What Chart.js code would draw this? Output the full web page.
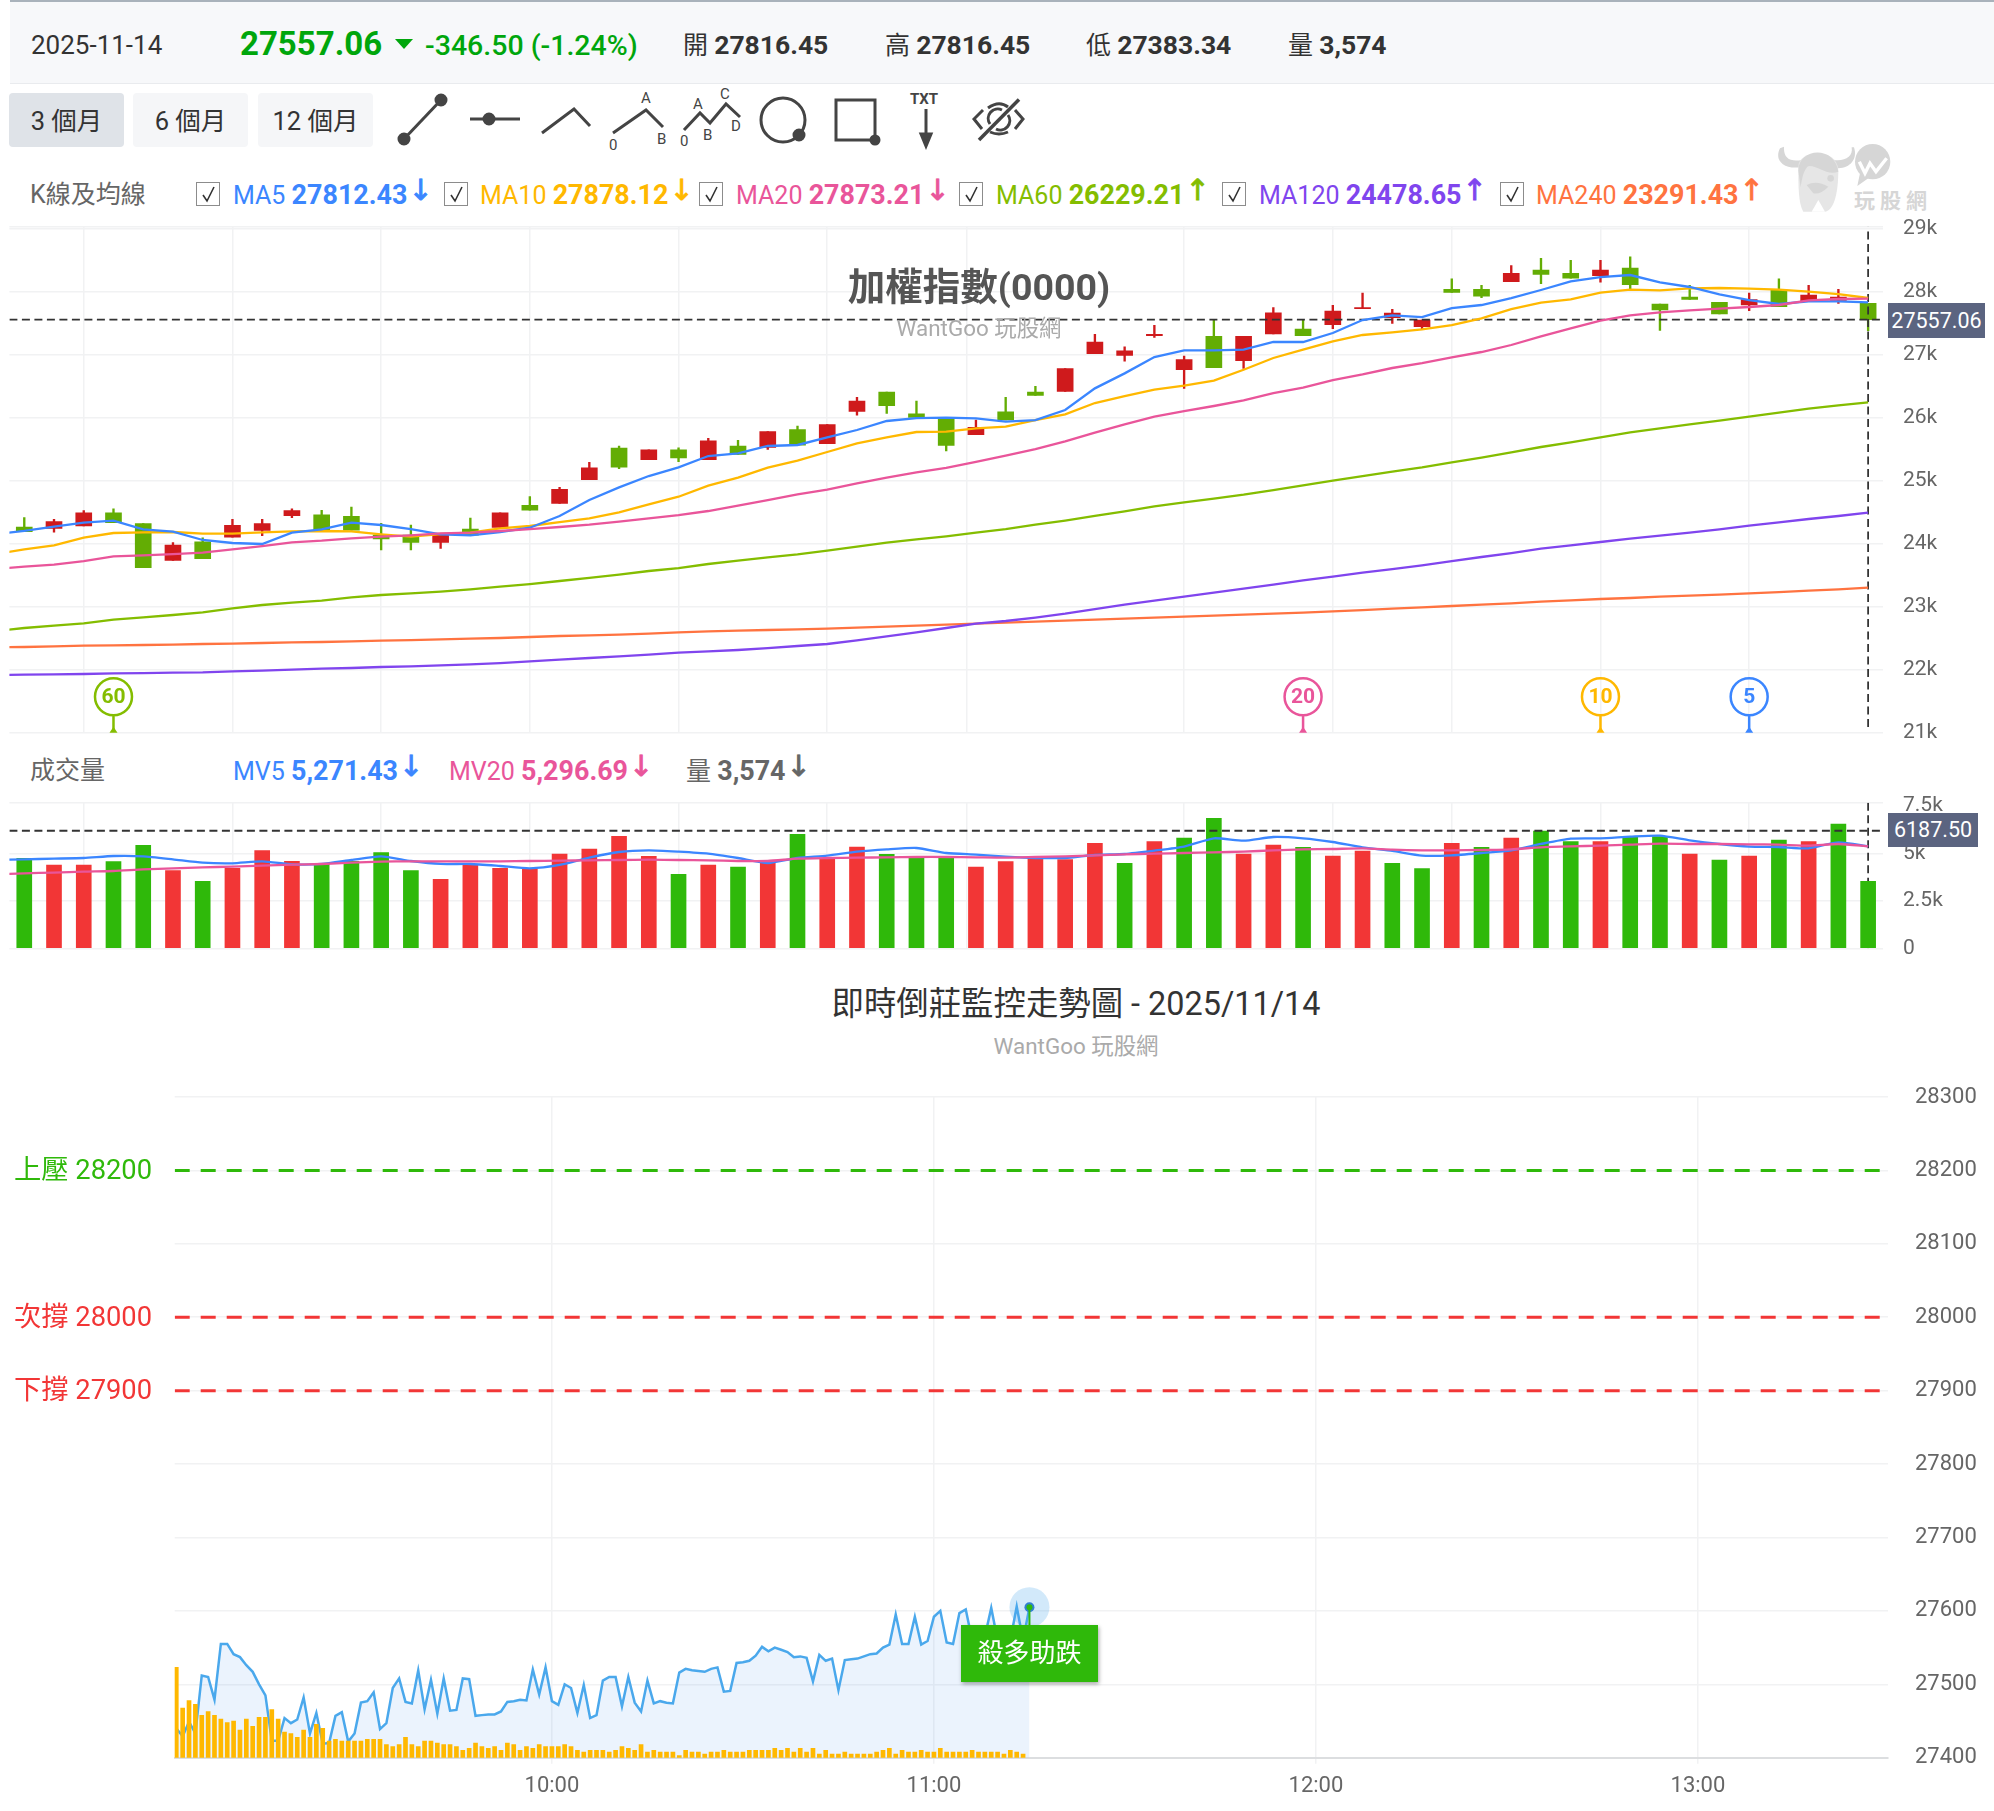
<!DOCTYPE html>
<html>
<head>
<meta charset="utf-8">
<title>加權指數</title>
<script src="https://cdn.jsdelivr.net/npm/chart.js@4/dist/chart.umd.js"></script>
<style>
  html, body { margin: 0; padding: 0; background: #fff; }
  body { width: 1994px; height: 1811px; position: relative; overflow: hidden; font-family: Roboto, "Noto Sans CJK TC", sans-serif; color: #333; }
  canvas { position: absolute; left: 0; }
  .t { position: absolute; white-space: nowrap; transform: translateY(-50%); line-height: 1; }
  .b { font-weight: 700; font-size: 26.5px; }
  .lg .b { font-size: 26.9px; }
  .btn { position: absolute; top: 93px; height: 54px; line-height: 56px; border-radius: 4px; background: #f5f6f8; text-align: center; font-size: 25.5px; color: #333; }
  .chk { position: absolute; top: 182px; width: 22px; height: 22px; border: 1.5px solid #8c8c8c; }
  .arr { font-size: 29px; position: relative; top: -4px; left: 1px; font-family: "DejaVu Sans"; -webkit-text-stroke: 0.9px; }
  .pricebox { position: absolute; background: #5b6480; color: #fff; text-align: center; font-size: 21.5px; }
</style>
</head>
<body>
<div style="position:absolute;left:10px;right:0;top:0;height:2px;background:#a9b2bb"></div>
<div style="position:absolute;left:10px;right:0;top:2px;height:81px;background:#f7f8fa;border-bottom:1px solid #e9ebee"></div>

<div class="t" style="left:31px;top:45px;font-size:26px">2025-11-14</div>
<div class="t" style="left:240px;top:43px;font-size:33px;font-weight:700;color:#00a60c">27557.06</div>
<div class="t" style="left:425px;top:46px;font-size:28.5px;font-weight:500;color:#00a60c">-346.50 (-1.24%)</div>
<div class="t" style="left:683px;top:45px;font-size:25px">開 <span class="b">27816.45</span></div>
<div class="t" style="left:885px;top:45px;font-size:25px">高 <span class="b">27816.45</span></div>
<div class="t" style="left:1086px;top:45px;font-size:25px">低 <span class="b">27383.34</span></div>
<div class="t" style="left:1288px;top:45px;font-size:25px">量 <span class="b">3,574</span></div>

<div class="btn" style="left:9px;width:115px;background:#dfe3e8">3 個月</div>
<div class="btn" style="left:133px;width:115px">6 個月</div>
<div class="btn" style="left:258px;width:115px">12 個月</div>

<svg style="position:absolute;left:0;top:0" width="1994" height="225" fill="none" stroke="#444" stroke-width="3" font-family="Roboto" font-size="15">
  <path d="M395 39H413L404 49Z" fill="#00a60c" stroke="none"/>
  <g>
    <path d="M404 139L441 100"/><circle cx="404" cy="139" r="5" fill="#444"/><circle cx="441" cy="100" r="5" fill="#444"/>
    <path d="M470 119H520"/><circle cx="489" cy="119" r="5" fill="#444"/>
    <path d="M542 133L574 109L590 126"/>
    <path d="M613 133L646 110L663 127"/>
    <path d="M684 130L700 113L710 123L726 104L740 117"/>
    <circle cx="783" cy="120" r="22"/><circle cx="799" cy="135" r="5" fill="#444"/>
    <rect x="836" y="100" width="39" height="40"/><circle cx="875" cy="140" r="4" fill="#444"/>
    <path d="M926 109V140"/><path d="M921 134L926 146L931 134Z" fill="#444"/>
    <path d="M983 110L974 119L982 129M1015 110L1023 119L1015 129M988 108Q999 100 1008 107M990 132Q999 136 1008 132M990 124A9.5 9.5 0 0 1 1002 110M1008 115A9.5 9.5 0 0 1 996 129"/>
    <path d="M979 140L1019 99.5" stroke-width="3.5"/>
  </g>
  <g fill="#444" stroke="none">
    <text x="641" y="103">A</text><text x="609" y="150">0</text><text x="657" y="144">B</text>
    <text x="680" y="146">0</text><text x="693" y="109">A</text><text x="703" y="140">B</text><text x="720" y="99">C</text><text x="731" y="131">D</text>
    <text x="910" y="104" font-weight="700">TXT</text>
  </g>
  <!-- watermark -->
  <g transform="translate(1770,130) scale(0.3333)" stroke="none" fill="#d6d6d6">
    <path d="M30 55C12 90 40 118 90 112L95 90C60 96 40 85 42 50Z"/>
    <path d="M245 52C250 80 225 95 190 90L195 114C236 120 265 90 252 52Z"/>
    <path d="M85 110C85 60 200 50 205 120C205 180 195 240 165 245L100 245C85 220 85 170 85 110Z" fill="#e6e6e6"/>
    <path d="M85 122C85 52 195 45 205 125C172 140 132 100 112 110C100 125 96 145 92 172Z"/>
    <circle cx="182" cy="145" r="10"/>
    <path d="M110 165Q140 150 175 170Q150 195 130 190Z"/>
    <path d="M125 245L145 210L165 245Z" fill="#fff"/>
    <circle cx="308" cy="95" r="53"/>
    <path d="M270 130L262 168L295 145Z"/>
    <path d="M268 95L285 130L300 100L318 125L350 85" fill="none" stroke="#fff" stroke-width="10"/>
  </g>
  <text x="1854" y="208" font-size="21" font-weight="700" fill="#d6d6d6" stroke="none" letter-spacing="5" font-family="Noto Sans CJK TC">玩股網</text>
</svg>

<div class="t" style="left:30px;top:194px;font-size:25px;color:#666">K線及均線</div>
<div class="chk" style="left:196px"></div><div class="chk" style="left:444px"></div><div class="chk" style="left:699px"></div>
<div class="chk" style="left:959px"></div><div class="chk" style="left:1222px"></div><div class="chk" style="left:1500px"></div>
<svg style="position:absolute;left:0;top:0" width="1994" height="225" fill="none" stroke="#333" stroke-width="1.6">
  <path d="M203 195l4 6 7-14M451 195l4 6 7-14M706 195l4 6 7-14M966 195l4 6 7-14M1229 195l4 6 7-14M1507 195l4 6 7-14"/>
</svg>
<div class="t lg" style="left:233px;top:194px;font-size:25px;color:#3b86ff">MA5 <span class="b">27812.43</span><span class="arr">↓</span></div>
<div class="t lg" style="left:480px;top:194px;font-size:25px;color:#ffb800">MA10 <span class="b">27878.12</span><span class="arr">↓</span></div>
<div class="t lg" style="left:736px;top:194px;font-size:25px;color:#e9559a">MA20 <span class="b">27873.21</span><span class="arr">↓</span></div>
<div class="t lg" style="left:996px;top:194px;font-size:25px;color:#84bd00">MA60 <span class="b">26229.21</span><span class="arr">↑</span></div>
<div class="t lg" style="left:1259px;top:194px;font-size:25px;color:#8045ee">MA120 <span class="b">24478.65</span><span class="arr">↑</span></div>
<div class="t lg" style="left:1536px;top:194px;font-size:25px;color:#ff7340">MA240 <span class="b">23291.43</span><span class="arr">↑</span></div>

<div class="t" style="left:30px;top:770px;font-size:25px;color:#666">成交量</div>
<div class="t lg" style="left:233px;top:770px;font-size:25px;color:#3b86ff">MV5 <span class="b">5,271.43</span><span class="arr">↓</span></div>
<div class="t lg" style="left:449px;top:770px;font-size:25px;color:#e9559a">MV20 <span class="b">5,296.69</span><span class="arr">↓</span></div>
<div class="t lg" style="left:686px;top:770px;font-size:25px;color:#666">量 <span class="b">3,574</span><span class="arr">↓</span></div>

<canvas id="kChart" width="1994" height="560" style="top:200px"></canvas>
<canvas id="volChart" width="1994" height="190" style="top:780px"></canvas>
<canvas id="dayChart" width="1994" height="741" style="top:1070px"></canvas>

<div class="t" style="left:979px;top:288px;transform:translate(-50%,-50%);font-size:37.5px;font-weight:700;color:#555">加權指數(0000)</div>
<div class="t" style="left:979px;top:328px;transform:translate(-50%,-50%);font-size:22.4px;color:#aaa">WantGoo 玩股網</div>
<div class="pricebox" style="left:1888px;top:303px;width:97px;height:35px;line-height:35px">27557.06</div>
<div class="pricebox" style="left:1888px;top:813px;width:90px;height:34px;line-height:34px">6187.50</div>

<div class="t" style="left:1076px;top:1004px;transform:translate(-50%,-50%);font-size:32.4px;color:#333">即時倒莊監控走勢圖 - 2025/11/14</div>
<div class="t" style="left:1076px;top:1046px;transform:translate(-50%,-50%);font-size:22.4px;color:#aaa">WantGoo 玩股網</div>
<div style="position:absolute;left:961px;top:1625px;width:137px;height:57px;line-height:57px;text-align:center;background:#2fb90a;color:#fff;font-size:26px;box-shadow:1px 2px 4px rgba(0,0,0,.35)">殺多助跌</div>

<script>
// K line, one entry per trading day
const candleOpen = [24265,24244,24281,24492,24318,23736,24031,24105,24211,24445,24460,24434,24137,24137,24021,24234,24260,24608,24640,25016,25518,25334,25492,25334,25550,25529,25810,25587,26100,26408,26063,25979,25729,26095,26408,26418,27016,26989,27302,26761,27292,26905,27329,27408,27476,27729,27587,27445,28037,28037,28158,28345,28290,28253,28376,27805,27916,27831,27789,28026,27858,27863,27816.45];
const candleHigh = [24413,24387,24524,24555,24318,24016,24095,24387,24387,24555,24529,24582,24323,24297,24137,24408,24492,24750,24894,25290,25550,25492,25523,25671,25640,25779,25868,25889,26323,26408,26265,25979,25963,26323,26497,26779,27323,27126,27466,26979,27545,27292,27750,27545,27782,27979,27719,27550,28206,28100,28413,28529,28497,28497,28555,27805,28100,27831,27979,28206,28100,28037,27816.45];
const candleLow = [24190,24184,24281,24334,23620,23736,23763,24105,24126,24413,24216,24216,23900,23900,23926,24137,24260,24534,24640,25016,25190,25334,25302,25334,25418,25497,25566,25587,26042,26068,26005,25471,25729,25963,26355,26418,27016,26898,27276,26466,26794,26782,27329,27302,27413,27729,27497,27413,27989,27905,28158,28127,28216,28153,28047,27387,27879,27647,27698,27763,27858,27816,27383.34];
const candleClose = [24190,24350,24492,24334,23620,23979,23763,24292,24318,24524,24216,24216,24074,24021,24137,24137,24492,24534,24863,25205,25216,25492,25360,25634,25418,25779,25566,25889,26265,26190,26005,25560,25847,25963,26355,26779,27200,27063,27323,26921,26794,27292,27666,27302,27692,27750,27661,27550,27989,27931,28290,28274,28216,28345,28111,27710,27879,27647,27874,27763,27947,27916,27557.06];

// moving averages start one day before the first candle, that day is clipped by the axis
const ma5 = [24154,24202,24270,24334,24366,24228,24191,24059,24011,23995,24175,24228,24334,24297,24233,24149,24133,24186,24254,24440,24693,24895,25074,25212,25392,25434,25551,25567,25688,25805,25948,25995,26000,25990,25937,25963,26122,26466,26704,26963,27069,27069,27080,27202,27202,27344,27551,27625,27598,27741,27789,27900,28027,28164,28233,28265,28149,28075,27958,27868,27805,27847,27847,27831];
const ma10 = [23831,23911,23974,24096,24170,24180,24186,24159,24159,24180,24196,24202,24196,24149,24112,24154,24175,24244,24281,24344,24403,24498,24625,24746,24921,25048,25207,25318,25456,25593,25688,25773,25778,25831,25858,25963,26053,26233,26344,26445,26508,26588,26762,26948,27080,27212,27313,27355,27403,27471,27577,27725,27826,27879,27985,28032,28022,28053,28059,28048,28032,28000,27963,27900];
const ma20 = [23598,23635,23667,23725,23799,23815,23836,23858,23911,23963,24022,24048,24085,24112,24133,24164,24175,24202,24233,24265,24302,24350,24403,24455,24519,24604,24693,24783,24858,24958,25048,25133,25202,25297,25397,25503,25625,25762,25895,26016,26106,26186,26276,26392,26477,26598,26688,26789,26868,26958,27043,27154,27291,27418,27540,27625,27672,27704,27731,27757,27789,27863,27884,27889];
const ma60 = [22614,22662,22699,22736,22794,22831,22868,22911,22974,23027,23064,23096,23149,23186,23212,23239,23276,23318,23360,23408,23456,23508,23567,23614,23678,23731,23784,23831,23889,23953,24016,24069,24117,24175,24233,24302,24366,24440,24514,24593,24657,24715,24778,24852,24926,25000,25074,25143,25212,25292,25366,25450,25535,25609,25688,25768,25831,25895,25953,26016,26080,26143,26196,26244];
const ma120 = [21916,21921,21926,21932,21942,21947,21953,21958,21974,21985,22000,22016,22027,22043,22053,22069,22085,22106,22133,22159,22186,22212,22239,22270,22291,22313,22344,22376,22408,22466,22530,22593,22662,22731,22773,22826,22889,22963,23032,23096,23159,23223,23286,23350,23418,23477,23540,23598,23657,23725,23789,23852,23921,23974,24027,24080,24127,24175,24228,24286,24339,24392,24440,24492];
const ma240 = [22355,22360,22371,22381,22387,22392,22397,22408,22413,22424,22434,22440,22450,22461,22471,22482,22493,22503,22519,22535,22545,22556,22572,22593,22609,22620,22630,22641,22651,22667,22683,22699,22715,22731,22747,22762,22778,22794,22810,22826,22842,22858,22873,22889,22905,22926,22947,22968,22989,23011,23032,23053,23080,23101,23122,23138,23159,23175,23191,23212,23233,23254,23275,23302];

const kGridDays = [2,7,12,17,22,27,31.7,39,44,48,53,58];
const kTicks = [21000,22000,23000,24000,25000,26000,27000,28000,29000];
const markerDays = [3,43,53,58];
const markerLabels = ['60','20','10','5'];
const markerColors = ['#84bd00','#e9559a','#ffb800','#3b86ff'];
const lastClose = 27557.06;

// volume panel
const volValues = [4736,4385,4385,4560,5420,4087,3526,4210,5139,4578,4420,4578,5034,4087,3631,4420,4210,4192,4964,5227,5893,4841,3894,4385,4280,4473,5999,4683,5332,4946,4824,4824,4280,4560,4736,4666,5525,4473,5613,5806,6841,4964,5437,5315,4859,5122,4473,4192,5525,5315,5806,6174,5613,5613,5876,5876,4964,4648,4859,5701,5613,6542,3526];
const volSides = 'GRRGGRGRRRGGGGRRRRRRRRGRGRGRRGGGRRRRRGRGGRRGRRGGRGRGGRGGRGRGRGG'.split('');
const mv5 = [4648,4683,4718,4753,4859,4841,4683,4508,4473,4578,4420,4438,4648,4841,4595,4438,4438,4332,4210,4385,4771,5069,5157,5087,4981,4753,4490,4753,4876,5087,5209,5280,5016,4929,4824,4753,4753,4911,4964,5139,5350,5788,5665,5858,5788,5595,5315,5122,4876,4894,5016,5157,5490,5771,5788,5876,5929,5683,5490,5350,5332,5262,5578,5367];
const mv20 = [3876,3947,3982,4034,4069,4157,4210,4262,4297,4350,4403,4438,4508,4560,4578,4578,4578,4578,4595,4613,4631,4648,4666,4648,4631,4595,4595,4718,4753,4771,4788,4806,4806,4788,4771,4806,4841,4894,4946,4981,5016,5052,5087,5157,5209,5227,5262,5192,5157,5157,5174,5209,5315,5367,5402,5455,5508,5490,5490,5472,5455,5402,5490,5367];
const volTicks = [0,2500,5000,7500];
const crossVol = 6187.5;

// intraday, one entry per minute starting 09:01
const firstMinute = 541;
const dayPrice = [27440,27429,27449,27433,27512,27510,27479,27555,27555,27541,27537,27526,27517,27500,27485,27423,27423,27454,27447,27452,27482,27433,27461,27419,27420,27457,27462,27422,27433,27475,27477,27489,27439,27447,27495,27508,27476,27474,27519,27466,27506,27460,27508,27464,27465,27508,27507,27457,27458,27459,27459,27463,27476,27477,27479,27478,27520,27486,27523,27477,27472,27500,27495,27461,27499,27454,27458,27505,27510,27510,27470,27510,27475,27463,27505,27474,27477,27475,27474,27516,27521,27519,27518,27517,27521,27523,27490,27491,27529,27530,27532,27539,27551,27545,27550,27547,27544,27537,27538,27536,27504,27540,27532,27535,27492,27533,27534,27535,27538,27541,27542,27550,27554,27595,27555,27555,27592,27554,27559,27592,27600,27557,27555,27597,27602,27560,27560,27565,27604,27560,27560,27560,27606,27560,27605];
const dayVolume = [271,149,171,160,127,138,127,116,105,110,83,116,94,121,121,144,116,77,72,61,83,61,100,88,50,55,50,50,50,50,55,55,55,39,33,39,61,39,33,50,50,44,39,39,33,22,28,44,33,28,33,22,44,39,22,33,28,39,33,33,33,39,33,22,17,22,22,22,17,22,33,28,22,39,17,22,17,17,17,6,22,17,17,11,17,17,22,17,17,17,22,22,22,22,28,22,28,17,28,17,28,11,22,11,11,17,11,11,11,11,17,22,28,11,22,17,17,22,17,17,28,17,17,17,17,22,17,17,17,17,11,22,17,11];
const levelNames = ['上壓','次撐','下撐'];
const levelValues = [28200,28000,27900];
const levelColors = ['#2fb90a','#f23636','#f23636'];
const dayTimes = [600,660,720,780];

const RED = '#cf1a1c', GREEN = '#63ad04';
const VOL_RED = '#f23636', VOL_GREEN = '#2fb90a';
const GRID = '#f1f2f3';
const FONT = 'Roboto, "Noto Sans CJK TC", sans-serif';

const days = candleOpen.map((_, i) => i);
const series = (arr) => arr.map((v, i) => ({ x: i - 1, y: v }));

function maLine(data, color, order) {
  return { type: 'line', data: series(data), borderColor: color, borderWidth: 2.3, pointRadius: 0, tension: 0, order: order };
}

function dashLine(points, color, order) {
  return { type: 'line', data: points, borderColor: color, borderWidth: 1.8, borderDash: [8, 4.5], pointRadius: 0, order: order };
}

// the plot area has to sit exactly where the layout padding says
function fitY(width) {
  return (s) => { s.width = width; s.paddingTop = 0; s.paddingBottom = 0; };
}

function xDays(gridTicks) {
  return {
    type: 'linear', min: -0.5, max: 62.5, offset: false,
    afterBuildTicks(s) { s.ticks = gridTicks.map(v => ({ value: v })); },
    afterFit(s) { s.height = 0; },
    grid: { color: GRID, lineWidth: 1.5, drawTicks: false, offset: false },
    border: { display: false },
    ticks: { display: false }
  };
}

// round price bubbles at the bottom of the K panel
const markerPlugin = {
  id: 'markers',
  afterDatasetsDraw(chart) {
    const { ctx, scales: { x, y } } = chart;
    markerDays.forEach((day, i) => {
      const px = x.getPixelForValue(day);
      const cy = y.getPixelForValue(21570);
      ctx.save();
      ctx.strokeStyle = ctx.fillStyle = markerColors[i];
      ctx.lineWidth = 2.5;
      ctx.beginPath();
      ctx.arc(px, cy, 18.5, 0, Math.PI * 2);
      ctx.moveTo(px, cy + 18.5);
      ctx.lineTo(px, y.getPixelForValue(21000) - 2);
      ctx.stroke();
      ctx.beginPath();
      ctx.moveTo(px - 4, y.getPixelForValue(21000));
      ctx.lineTo(px + 4, y.getPixelForValue(21000));
      ctx.lineTo(px, y.getPixelForValue(21000) - 6);
      ctx.fill();
      ctx.font = 'bold 21px ' + FONT;
      ctx.textAlign = 'center';
      ctx.textBaseline = 'middle';
      ctx.fillText(markerLabels[i], px, cy + 1);
      ctx.restore();
    });
  }
};

new Chart(document.getElementById('kChart'), {
  type: 'bar',
  plugins: [markerPlugin],
  data: {
    datasets: [
      maLine(ma20, '#e9559a', 0),
      maLine(ma5, '#3b86ff', 1),
      maLine(ma10, '#ffb800', 2),
      maLine(ma60, '#84bd00', 3),
      maLine(ma120, '#8045ee', 4),
      maLine(ma240, '#ff7340', 5),
      dashLine([{ x: -0.5, y: lastClose }, { x: 62.5, y: lastClose }], '#333', 6),
      dashLine([{ x: 62, y: 21090 }, { x: 62, y: 29032 }], '#333', 6),
      {
        data: days.map(i => ({ x: i, y: [candleOpen[i], candleClose[i]] })),
        backgroundColor: days.map(i => candleClose[i] >= candleOpen[i] ? RED : GREEN),
        barThickness: 16, grouped: false, order: 7
      },
      {
        data: days.map(i => ({ x: i, y: [candleLow[i], candleHigh[i]] })),
        backgroundColor: days.map(i => candleClose[i] >= candleOpen[i] ? RED : GREEN),
        barThickness: 1.7, grouped: false, order: 8
      }
    ]
  },
  options: {
    responsive: false,
    animation: false,
    layout: { padding: { left: 9.4, top: 26.7, bottom: 27.3, right: 0 } },
    plugins: { legend: { display: false }, tooltip: { enabled: false } },
    scales: {
      x: xDays(kGridDays),
      y: {
        position: 'right', min: 21000, max: 29032,
        afterBuildTicks(s) { s.ticks = kTicks.concat(29032).map(v => ({ value: v })); },
        afterFit: fitY(111),
        grid: { color: GRID, lineWidth: 1.5, drawTicks: false },
        border: { display: false },
        ticks: {
          autoSkip: false, padding: 20, color: '#666', font: { size: 21, family: FONT },
          callback: (v) => kTicks.includes(v) ? (v / 1000) + 'k' : ''
        }
      }
    }
  }
});

new Chart(document.getElementById('volChart'), {
  type: 'bar',
  data: {
    datasets: [
      { type: 'line', data: series(mv20), borderColor: '#e9559a', borderWidth: 2.3, pointRadius: 0, tension: 0.2, order: 0 },
      { type: 'line', data: series(mv5), borderColor: '#3b86ff', borderWidth: 2.3, pointRadius: 0, tension: 0.2, order: 1 },
      dashLine([{ x: -0.5, y: crossVol }, { x: 62.5, y: crossVol }], '#333', 2),
      {
        data: days.map(i => ({ x: i, y: volValues[i] })),
        backgroundColor: volSides.map(s => s === 'R' ? VOL_RED : VOL_GREEN),
        barThickness: 15, grouped: false, order: 3
      },
      dashLine([{ x: 62, y: 0 }, { x: 62, y: 7663 }], '#333', 4)
    ]
  },
  options: {
    responsive: false,
    animation: false,
    layout: { padding: { left: 9.4, top: 22.7, bottom: 21.7, right: 0 } },
    plugins: { legend: { display: false }, tooltip: { enabled: false } },
    scales: {
      x: xDays(kGridDays),
      y: {
        position: 'right', min: 0, max: 7663,
        afterBuildTicks(s) { s.ticks = volTicks.concat(7663).map(v => ({ value: v })); },
        afterFit: fitY(111),
        grid: { color: (c) => c.tick.value === 7500 ? 'transparent' : GRID, lineWidth: 1.5, drawTicks: false },
        border: { display: false },
        ticks: {
          autoSkip: false, padding: 20, color: '#666', font: { size: 21, family: FONT },
          callback: (v) => v === 0 ? '0' : (volTicks.includes(v) ? (v / 1000) + 'k' : '')
        }
      }
    }
  }
});

// level labels on the left and the glowing last point
const dayPlugin = {
  id: 'dayLabels',
  afterDatasetsDraw(chart) {
    const { ctx, scales: { x, y } } = chart;
    ctx.save();
    ctx.font = '27.3px ' + FONT;
    ctx.textAlign = 'right';
    ctx.textBaseline = 'middle';
    levelValues.forEach((v, i) => {
      ctx.fillStyle = levelColors[i];
      ctx.fillText(levelNames[i] + ' ' + v, 152, y.getPixelForValue(v) + 1.5);
    });
    const lastX = x.getPixelForValue(firstMinute + dayPrice.length - 1);
    const lastY = y.getPixelForValue(dayPrice[dayPrice.length - 1]);
    ctx.fillStyle = 'rgba(74,168,236,0.25)';
    ctx.beginPath(); ctx.arc(lastX, lastY, 20, 0, Math.PI * 2); ctx.fill();
    ctx.fillStyle = '#2f7fd0';
    ctx.beginPath(); ctx.arc(lastX, lastY, 5, 0, Math.PI * 2); ctx.fill();
    ctx.strokeStyle = ctx.fillStyle = '#2fb90a';
    ctx.lineWidth = 2;
    ctx.beginPath(); ctx.moveTo(lastX, lastY); ctx.lineTo(lastX, lastY + 20); ctx.stroke();
    ctx.beginPath(); ctx.arc(lastX, lastY, 3, 0, Math.PI * 2); ctx.fill();
    ctx.restore();
  }
};

const dayMin = 540.75, dayMax = 809.85;

new Chart(document.getElementById('dayChart'), {
  type: 'bar',
  plugins: [dayPlugin],
  data: {
    datasets: [
      {
        data: dayVolume.map((v, i) => ({ x: firstMinute + i, y: v })),
        yAxisID: 'yVol', backgroundColor: '#ffb800', barThickness: 4, grouped: false, order: 0
      },
      ...levelValues.map((v, i) => ({
        type: 'line',
        data: [{ x: dayMin, y: v }, { x: dayMax, y: v }],
        borderColor: levelColors[i], borderWidth: 3, borderDash: [15, 11], pointRadius: 0, order: 1
      })),
      {
        type: 'line',
        data: dayPrice.map((v, i) => ({ x: firstMinute + i, y: v })),
        borderColor: '#4aa8ec', borderWidth: 2.5, pointRadius: 0, tension: 0,
        fill: 'start', backgroundColor: 'rgba(59,140,240,0.1)', order: 2
      }
    ]
  },
  options: {
    responsive: false,
    animation: false,
    layout: { padding: { left: 174.7, top: 27, bottom: 0, right: 0 } },
    plugins: { legend: { display: false }, tooltip: { enabled: false } },
    scales: {
      x: {
        type: 'linear', min: dayMin, max: dayMax, offset: false,
        afterBuildTicks(s) { s.ticks = dayTimes.map(v => ({ value: v })); },
        afterFit(s) { s.height = 53.3; s.paddingLeft = 0; s.paddingRight = 0; },
        grid: { color: GRID, lineWidth: 1.5, tickLength: 6, offset: false },
        border: { color: '#dcdee0', width: 2 },
        ticks: {
          autoSkip: false, maxRotation: 0, padding: 10, color: '#666', font: { size: 22, family: FONT },
          callback: (v) => Math.floor(v / 60) + ':' + String(v % 60).padStart(2, '0')
        }
      },
      y: {
        position: 'right', min: 27400, max: 28300,
        afterFit: fitY(106),
        grid: { color: GRID, lineWidth: 1.5, drawTicks: false },
        border: { display: false },
        ticks: { stepSize: 100, autoSkip: false, padding: 27, color: '#666', font: { size: 22, family: FONT }, callback: (v) => String(v) }
      },
      yVol: { display: false, position: 'left', min: 0, max: 1982 }
    }
  }
});
</script>
</body>
</html>
